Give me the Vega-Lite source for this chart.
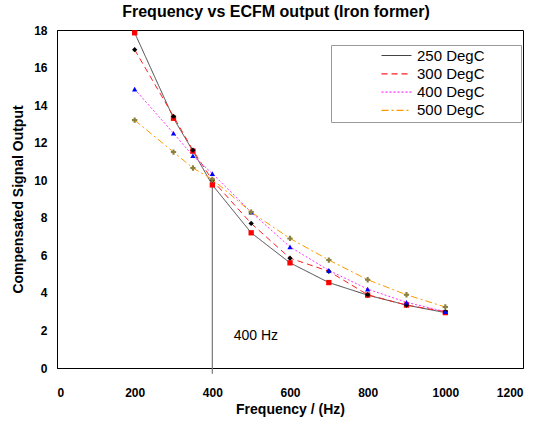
{
  "$schema": "https://vega.github.io/schema/vega-lite/v6.json",
  "width": 466,
  "height": 338,
  "autosize": {"type": "none"},
  "padding": {"left": 57, "top": 30, "right": 16, "bottom": 55},
  "background": "white",
  "title": {
    "text": "Frequency vs ECFM output  (Iron former)",
    "font": "Liberation Sans",
    "fontSize": 16,
    "fontWeight": "bold",
    "anchor": "middle",
    "dx": -14,
    "offset": 4,
    "color": "black"
  },
  "data": {
    "values": [
      {"freq": 200, "value": 17.85, "series": "250 DegC", "temp": 250},
      {"freq": 300, "value": 13.3, "series": "250 DegC", "temp": 250},
      {"freq": 350, "value": 11.55, "series": "250 DegC", "temp": 250},
      {"freq": 400, "value": 9.75, "series": "250 DegC", "temp": 250},
      {"freq": 500, "value": 7.2, "series": "250 DegC", "temp": 250},
      {"freq": 600, "value": 5.6, "series": "250 DegC", "temp": 250},
      {"freq": 700, "value": 4.55, "series": "250 DegC", "temp": 250},
      {"freq": 800, "value": 3.88, "series": "250 DegC", "temp": 250},
      {"freq": 900, "value": 3.35, "series": "250 DegC", "temp": 250},
      {"freq": 1000, "value": 2.95, "series": "250 DegC", "temp": 250},
      {"freq": 200, "value": 16.95, "series": "300 DegC", "temp": 300},
      {"freq": 300, "value": 13.4, "series": "300 DegC", "temp": 300},
      {"freq": 350, "value": 11.6, "series": "300 DegC", "temp": 300},
      {"freq": 400, "value": 10.0, "series": "300 DegC", "temp": 300},
      {"freq": 500, "value": 7.7, "series": "300 DegC", "temp": 300},
      {"freq": 600, "value": 5.85, "series": "300 DegC", "temp": 300},
      {"freq": 700, "value": 5.15, "series": "300 DegC", "temp": 300},
      {"freq": 800, "value": 3.9, "series": "300 DegC", "temp": 300},
      {"freq": 900, "value": 3.35, "series": "300 DegC", "temp": 300},
      {"freq": 1000, "value": 3.0, "series": "300 DegC", "temp": 300},
      {"freq": 200, "value": 14.85, "series": "400 DegC", "temp": 400},
      {"freq": 300, "value": 12.5, "series": "400 DegC", "temp": 400},
      {"freq": 350, "value": 11.3, "series": "400 DegC", "temp": 400},
      {"freq": 400, "value": 10.35, "series": "400 DegC", "temp": 400},
      {"freq": 500, "value": 8.3, "series": "400 DegC", "temp": 400},
      {"freq": 600, "value": 6.45, "series": "400 DegC", "temp": 400},
      {"freq": 700, "value": 5.2, "series": "400 DegC", "temp": 400},
      {"freq": 800, "value": 4.2, "series": "400 DegC", "temp": 400},
      {"freq": 900, "value": 3.5, "series": "400 DegC", "temp": 400},
      {"freq": 1000, "value": 3.0, "series": "400 DegC", "temp": 400},
      {"freq": 200, "value": 13.2, "series": "500 DegC", "temp": 500},
      {"freq": 300, "value": 11.5, "series": "500 DegC", "temp": 500},
      {"freq": 350, "value": 10.65, "series": "500 DegC", "temp": 500},
      {"freq": 400, "value": 10.05, "series": "500 DegC", "temp": 500},
      {"freq": 500, "value": 8.3, "series": "500 DegC", "temp": 500},
      {"freq": 600, "value": 6.9, "series": "500 DegC", "temp": 500},
      {"freq": 700, "value": 5.75, "series": "500 DegC", "temp": 500},
      {"freq": 800, "value": 4.7, "series": "500 DegC", "temp": 500},
      {"freq": 900, "value": 3.9, "series": "500 DegC", "temp": 500},
      {"freq": 1000, "value": 3.25, "series": "500 DegC", "temp": 500}
    ]
  },
  "encoding": {
    "x": {
      "field": "freq",
      "type": "quantitative",
      "scale": {"domain": [0, 1200], "nice": false},
      "axis": {"values": [0, 200, 400, 600, 800, 1000, 1200], "format": "d", "title": "Frequency / (Hz)", "labelPadding": 19, "titlePadding": 4}
    },
    "y": {
      "field": "value",
      "type": "quantitative",
      "scale": {"domain": [0, 18], "nice": false},
      "axis": {"values": [0, 2, 4, 6, 8, 10, 12, 14, 16, 18], "labelOverlap": false, "title": "Compensated Signal Output", "labelPadding": 10, "titlePadding": 8}
    }
  },
  "layer": [
    {
      "transform": [{"filter": "datum.freq == 400 && datum.temp == 250"}],
      "mark": {"type": "rule", "color": "#777777", "strokeWidth": 1.2},
      "encoding": {
        "x": {"datum": 400},
        "y": {"datum": -0.3},
        "y2": {"datum": 9.8}
      }
    },
    {
      "mark": {"type": "line", "strokeWidth": 1},
      "encoding": {
        "color": {
          "field": "series",
          "type": "nominal",
          "scale": {"domain": ["250 DegC", "300 DegC", "400 DegC", "500 DegC"], "range": ["#444444", "#ff2020", "#ff33ff", "#ff9900"]},
          "legend": {
            "title": null,
            "orient": "none",
            "legendX": 274,
            "legendY": 15,
            "symbolType": "M-3,0H3",
            "symbolSize": 100,
            "symbolStrokeWidth": 1.2,
            "symbolOffset": 55,
            "labelFont": "Liberation Sans",
            "labelFontSize": 15,
            "labelColor": "black",
            "labelOffset": 13,
            "rowPadding": 2.3,
            "padding": 3,
            "strokeColor": "#999999",
            "fillColor": "white",
            "labelExpr": "datum.label + '        \u200b'"
          }
        },
        "strokeDash": {
          "field": "series",
          "type": "nominal",
          "scale": {"domain": ["250 DegC", "300 DegC", "400 DegC", "500 DegC"], "range": [[1, 0], [6, 4], [2, 2], [7, 3, 2, 3]]},
          "legend": {"title": null}
        }
      }
    },
    {
      "mark": {"type": "point", "filled": true, "opacity": 1},
      "encoding": {
        "fill": {
          "field": "temp",
          "type": "nominal",
          "scale": {"domain": [250, 300, 400, 500], "range": ["#ff0000", "#000000", "#0000ff", "#8a8040"]},
          "legend": null
        },
        "shape": {
          "field": "temp",
          "type": "nominal",
          "scale": {"domain": [250, 300, 400, 500], "range": ["square", "diamond", "triangle-up", "cross"]},
          "legend": null
        },
        "size": {"value": 28}
      }
    },
    {
      "transform": [{"filter": "datum.freq == 400 && datum.temp == 250"}],
      "mark": {"type": "text", "align": "left", "baseline": "middle", "font": "Liberation Sans", "fontSize": 14, "color": "black"},
      "encoding": {
        "x": {"datum": 455},
        "y": {"datum": 1.7},
        "text": {"value": "400 Hz"}
      }
    }
  ],
  "config": {
    "view": {"stroke": "black", "strokeWidth": 1},
    "axis": {
      "grid": false,
      "ticks": false,
      "domainColor": "black",
      "domainWidth": 1,
      "labelFont": "Liberation Sans",
      "labelFontSize": 12,
      "labelFontWeight": "bold",
      "labelColor": "black",
      "titleFont": "Liberation Sans",
      "titleFontSize": 14,
      "titleFontWeight": "bold",
      "titleColor": "black"
    }
  }
}
